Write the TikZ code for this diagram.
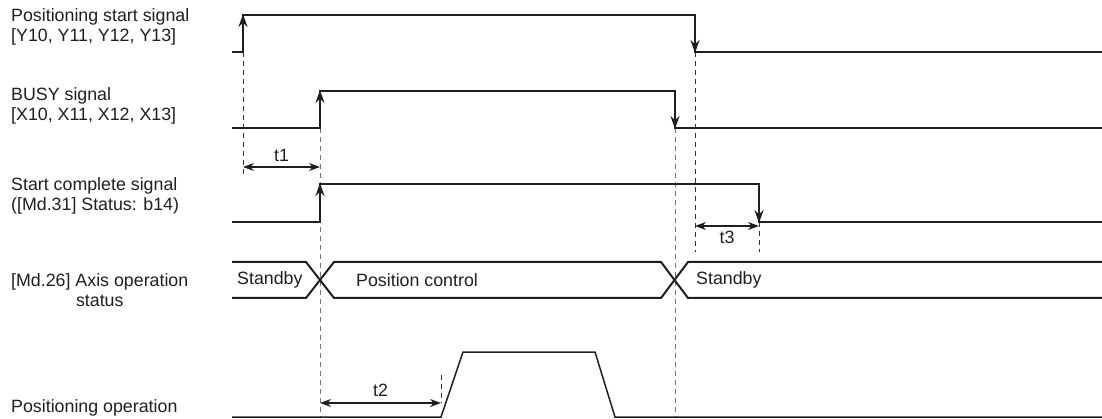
\documentclass[tikz,border=0pt]{standalone}
\usepackage{fontspec}
\setmainfont{Liberation Sans}
\usetikzlibrary{arrows.meta}

\begin{document}
\begin{tikzpicture}[x=1pt,y=-1pt,
	sig/.style={line width=2.2pt,black!88},
	edge/.style={line width=2.2pt,black!88,-{Stealth[length=13pt,width=9pt]}},
	bus/.style={line width=2pt,black!88},
	guide/.style={dash pattern=on 5pt off 4pt,line width=0.9pt,black!80},
	dim/.style={line width=1.1pt,black!88,{Stealth[length=11pt,width=8pt]}-{Stealth[length=11pt,width=8pt]}},
	lbl/.style={font=\fontsize{17.8}{20}\selectfont,text=black!88,align=left,anchor=west,inner sep=0pt},
	txt/.style={font=\fontsize{17.8}{20}\selectfont,text=black!88,inner sep=0pt}]
	\useasboundingbox (0,0) rectangle (1102,419);

	% signal names
	\node[lbl] (startsig) at (11,27) {Positioning start signal\\{}[Y10, Y11, Y12, Y13]};
	\node[lbl] (busysig) at (11,106) {BUSY signal\\{}[X10, X11, X12, X13]};
	\node[lbl] (cmplsig) at (11,196) {Start complete signal\\([Md.31] Status: b14)};
	\node[lbl,align=center] (axstat) at (11,290) {[Md.26] Axis operation\\status};
	\node[lbl] (posop) at (11,408) {Positioning operation};

	% guide lines
	\draw[guide] (243,52) -- (243,175);
	\draw[guide,black!55] (320,128) -- (320,417);
	\draw[guide,black!55] (675,128) -- (675,417);
	\draw[guide] (695,52) -- (695,252);
	\draw[guide] (759,222) -- (759,252);
	\draw[guide] (441,375) -- (441,403);

	% positioning start signal
	\draw[sig] (232,52) -| (243,15) -| (695,52) -- (1102,52);
	\draw[edge] (243,52) -- (243,14);
	\draw[edge] (695,15) -- (695,53);

	% BUSY signal
	\draw[sig] (232,128) -| (320,91) -| (675,128) -- (1102,128);
	\draw[edge] (320,128) -- (320,90);
	\draw[edge] (675,91) -- (675,129);

	% start complete signal
	\draw[sig] (232,222) -| (320,184) -| (759,222) -- (1102,222);
	\draw[edge] (320,222) -- (320,183);
	\draw[edge] (759,184) -- (759,223);

	% axis operation status
	\draw[bus] (232,262) -- (306,262) -- (334,298) -- (661,298) -- (688,262) -- (1102,262);
	\draw[bus] (232,298) -- (306,298) -- (334,262) -- (661,262) -- (688,298) -- (1102,298);
	\node[txt,anchor=west] (stby1) at (237,280) {Standby};
	\node[txt,anchor=west] (posctl) at (356,280) {Position control};
	\node[txt,anchor=west] (stby2) at (696,280) {Standby};

	% positioning operation
	\draw[line width=1.5pt,black!88] (232,417) -- (441,417) -- (463,352) -- (595,352) -- (615,417) -- (1102,417);

	% times
	\draw[dim] (243,167) -- node[txt,above=5pt] (t1) {t1} (320,167);
	\draw[dim] (695,226) -- node[txt,below=5pt] (t3) {t3} (759,226);
	\draw[dim] (320,403) -- node[txt,above=6pt] (t2) {t2} (441,403);
\end{tikzpicture}
\end{document}
